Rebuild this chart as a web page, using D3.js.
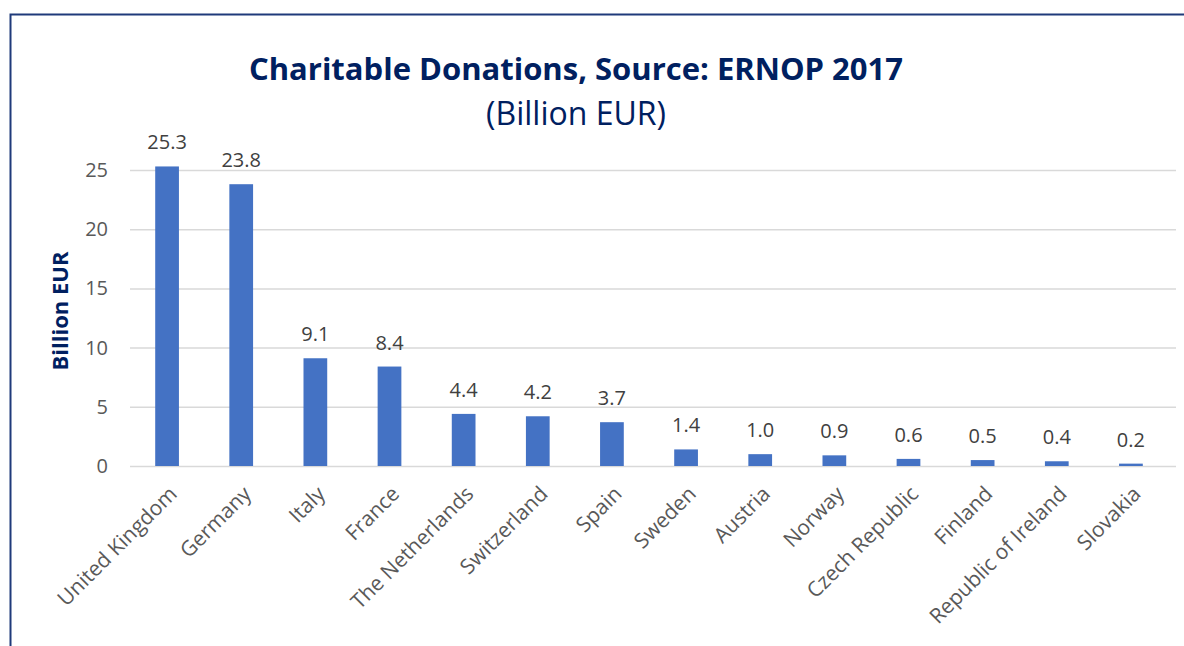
<!DOCTYPE html>
<html>
<head>
<meta charset="utf-8">
<script src="https://cdn.jsdelivr.net/npm/d3@7"></script>
<style>
  body { margin: 0; background: #fff; }
  text { font-family: "Open Sans", "Noto Sans", sans-serif; }
</style>
</head>
<body>
<script>
const countries = ["United Kingdom", "Germany", "Italy", "France", "The Netherlands", "Switzerland",
  "Spain", "Sweden", "Austria", "Norway", "Czech Republic", "Finland", "Republic of Ireland", "Slovakia"]
const donations = [25.3, 23.8, 9.1, 8.4, 4.4, 4.2, 3.7, 1.4, 1.0, 0.9, 0.6, 0.5, 0.4, 0.2]
const yTicks = [0, 5, 10, 15, 20, 25]

const data = countries.map((c, i) => ({country: c, value: donations[i]}))

const W = 1184, H = 646
const margin = {top: 170, right: 16, bottom: 180, left: 130}
const width = W - margin.left - margin.right
const height = 466 - margin.top

const svg = d3.select('body').append('svg')
  .attr('width', W)
  .attr('height', H)

// frame (left and top edges visible)
svg.append('path')
  .attr('d', `M10.5,${H} L10.5,14.5 L${W},14.5`)
  .attr('fill', 'none')
  .attr('stroke', '#1f3a7a')
  .attr('stroke-width', 2)

const scaleX = d3.scaleBand()
  .domain(countries)
  .range([0, width])
  .paddingInner(0.68)
  .paddingOuter(0.34)

const scaleY = d3.scaleLinear()
  .domain([0, 25])
  .range([height, 0])

const g = svg.append('g').attr('transform', `translate(${margin.left},${margin.top})`)

// gridlines
g.selectAll('line.grid')
  .data(yTicks)
  .enter()
  .append('line')
  .attr('x1', 0)
  .attr('x2', width + 8)
  .attr('y1', d => scaleY(d) + 0.5)
  .attr('y2', d => scaleY(d) + 0.5)
  .attr('stroke', '#d9d9d9')
  .attr('stroke-width', 1.5)

// y tick labels
g.selectAll('text.ytick')
  .data(yTicks)
  .enter()
  .append('text')
  .attr('x', -22)
  .attr('y', d => scaleY(d))
  .attr('dy', '0.35em')
  .attr('text-anchor', 'end')
  .attr('font-size', 20)
  .attr('fill', '#595959')
  .text(d => d)

// bars
g.selectAll('rect')
  .data(data)
  .enter()
  .append('rect')
  .attr('x', d => scaleX(d.country))
  .attr('width', scaleX.bandwidth())
  .attr('y', d => scaleY(d.value))
  .attr('height', d => height - scaleY(d.value))
  .attr('fill', '#4472c4')

// value labels
g.selectAll('text.val')
  .data(data)
  .enter()
  .append('text')
  .attr('x', d => scaleX(d.country) + scaleX.bandwidth() / 2)
  .attr('y', d => scaleY(d.value) - 17)
  .attr('text-anchor', 'middle')
  .attr('font-size', 20)
  .attr('fill', '#404040')
  .text(d => d.value.toFixed(1))

// x labels, rotated
g.selectAll('text.xlab')
  .data(data)
  .enter()
  .append('text')
  .attr('transform', d => `translate(${scaleX(d.country) + scaleX.bandwidth() / 2 + 6},${height + 24}) rotate(-45)`)
  .attr('text-anchor', 'end')
  .attr('dy', '0.35em')
  .attr('font-size', 21)
  .attr('fill', '#595959')
  .text(d => d.country)

// y axis title
svg.append('text')
  .attr('transform', `translate(68,311) rotate(-90)`)
  .attr('text-anchor', 'middle')
  .attr('font-size', 22)
  .attr('font-weight', 'bold')
  .attr('fill', '#002060')
  .text('Billion EUR')

// title
svg.append('text')
  .attr('x', 576)
  .attr('y', 80)
  .attr('text-anchor', 'middle')
  .attr('font-size', 31)
  .attr('font-weight', 'bold')
  .attr('fill', '#002060')
  .text('Charitable Donations, Source: ERNOP 2017')

svg.append('text')
  .attr('x', 576)
  .attr('y', 125)
  .attr('text-anchor', 'middle')
  .attr('font-size', 32)
  .attr('fill', '#002060')
  .text('(Billion EUR)')
</script>
</body>
</html>
